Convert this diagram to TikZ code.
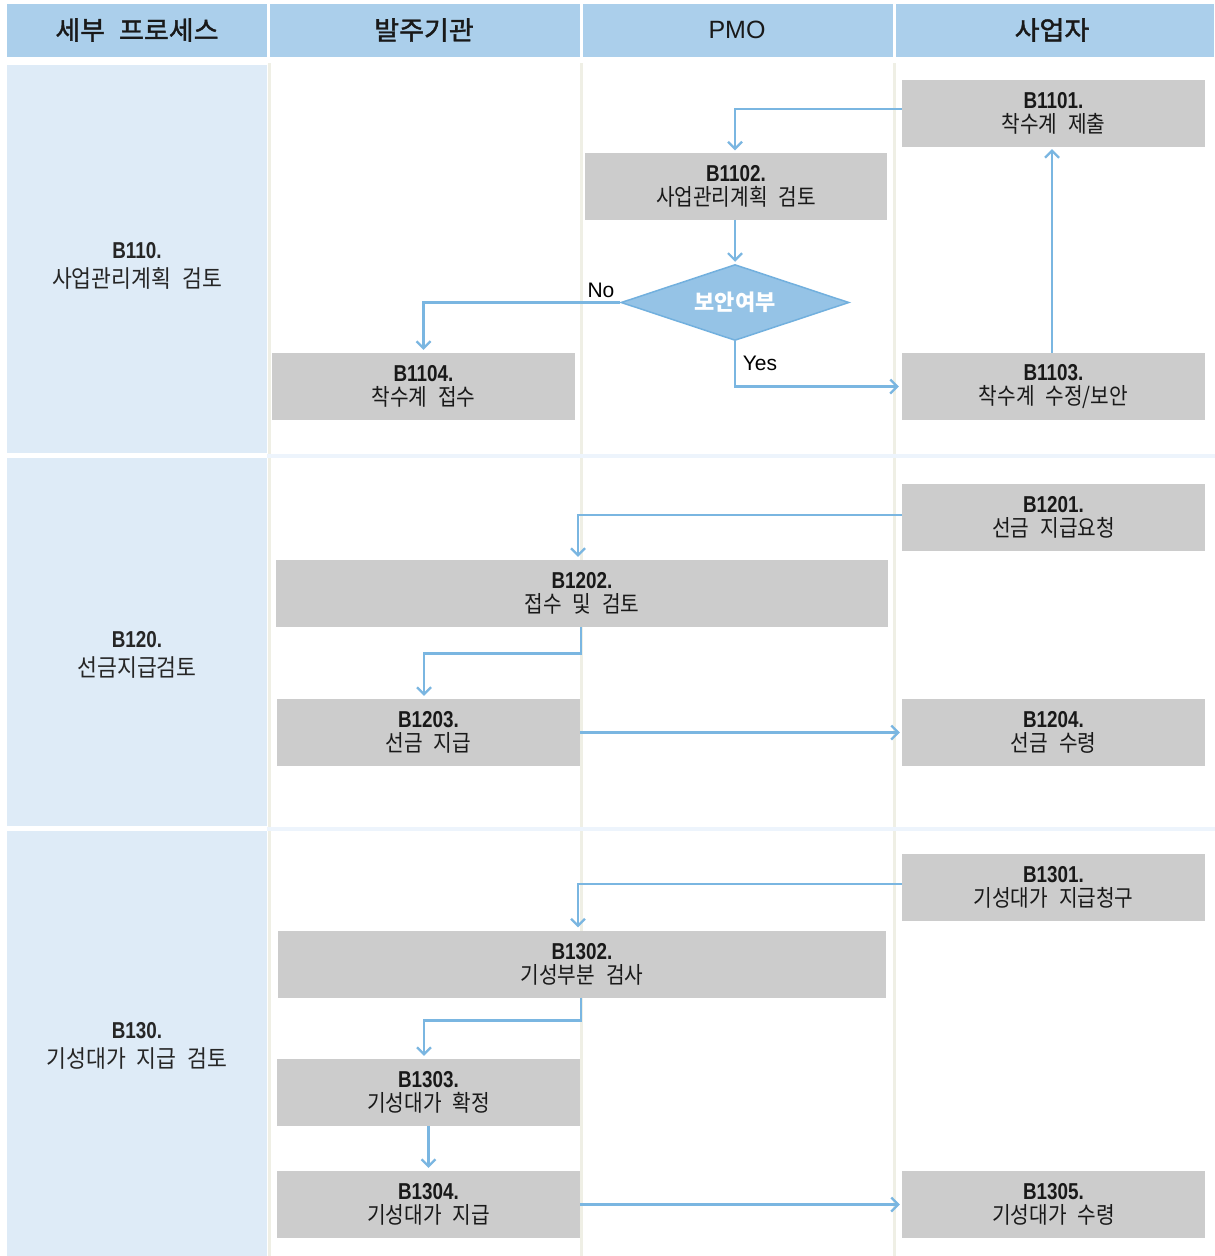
\documentclass[tikz,border=0pt]{standalone}
\usepackage{fontspec}
\setmainfont{Noto Sans CJK KR}
\newfontfamily\boxfont[FakeStretch=0.88]{Noto Sans CJK KR}
\newfontfamily\leftfont[FakeStretch=0.9]{Noto Sans CJK KR}
\newfontfamily\headfont[FakeStretch=1.04, FakeBold=1.6]{Noto Sans CJK KR}
\newfontfamily\codefont[FakeStretch=0.82]{Liberation Sans}
\newfontfamily\latinfont{Liberation Sans}
\usetikzlibrary{arrows.meta,shapes.geometric,calc}

% word gap used inside Korean labels
\newcommand{\ws}{\hspace{11pt}}

\definecolor{headblue}{HTML}{ABCFEB}
\definecolor{leftblue}{HTML}{DEEBF7}
\definecolor{boxgray}{HTML}{CCCCCC}
\definecolor{flowblue}{HTML}{7AB6E1}
\definecolor{diafill}{HTML}{95C3E6}
\definecolor{diadraw}{HTML}{72B0DE}
\definecolor{laneline}{HTML}{EFEFE5}
\definecolor{rowline}{HTML}{EDF4FC}

\tikzset{
  headcell/.style={fill=headblue, draw=none},
  headtext/.style={font=\headfont\fontsize{26}{28}\selectfont, text=black!90},
  leftcell/.style={fill=leftblue, draw=none},
  lefttext/.style={font=\leftfont\fontsize{24}{29}\selectfont, align=center, text=black!85},
  stepbox/.style={fill=boxgray, draw=none, inner sep=0pt, align=center,
    minimum height=67pt, font=\boxfont\fontsize{23}{24}\selectfont, text=black!90},
  decision/.style={diamond, shape aspect=3, fill=diafill, draw=diadraw, line width=1.5pt,
    inner sep=0pt, minimum width=228pt, minimum height=76pt,
    font=\bfseries\fontsize{22}{22}\selectfont, text=white},
  flow/.style={draw=flowblue, line width=2.6pt,
    -{Straight Barb[length=7pt,width=14pt,line width=2.2pt]}},
  edgelabel/.style={font=\latinfont\fontsize{21}{21}\selectfont, text=black, inner sep=0pt}
}

\newcommand{\code}[1]{{\codefont\bfseries\fontsize{23}{23}\selectfont #1}}

\begin{document}
\begin{tikzpicture}[x=1pt,y=-1pt]
\useasboundingbox (0,0) rectangle (1215,1256);
\fill[white] (0,0) rectangle (1215,1256);

% header row
\fill[headcell] (7,4) rectangle (267,57);
\fill[headcell] (270,4) rectangle (580,57);
\fill[headcell] (583,4) rectangle (893,57);
\fill[headcell] (896,4) rectangle (1214,57);
\node[headtext] (h1) at (137,30) {세부\hspace{14pt}프로세스};
\node[headtext] (h2) at (424,30) {발주기관};
\node[headtext, font=\latinfont\fontsize{25}{27}\selectfont] (h3) at (737,30) {PMO};
\node[headtext] (h4) at (1052,30) {사업자};

% lane dividers
\foreach \lx in {269,581.5,894.5}
  \draw[laneline, line width=3pt] (\lx,63) -- (\lx,1256);
\draw[rowline, line width=4pt] (267,455.5) -- (1215,455.5);
\draw[rowline, line width=4pt] (267,829) -- (1215,829);

% process column
\fill[leftcell] (7,65) rectangle (267,453);
\fill[leftcell] (7,458) rectangle (267,826);
\fill[leftcell] (7,831) rectangle (267,1256);
\node[lefttext] (p110) at (137,266) {\code{B110.}\\사업관리계획\ws 검토};
\node[lefttext] (p120) at (137,655) {\code{B120.}\\선금지급검토};
\node[lefttext] (p130) at (137,1046) {\code{B130.}\\기성대가\ws 지급\ws 검토};

% B110 steps
\node[stepbox, minimum width=303pt] (b1101) at (1053.5,113.5) {\code{B1101.}\\착수계\ws 제출};
\node[stepbox, minimum width=302pt] (b1102) at (736,186) {\code{B1102.}\\사업관리계획\ws 검토};
\node[decision] (dia) at (735,302.5) {보안여부};
\node[stepbox, minimum width=303pt] (b1104) at (423.5,386.5) {\code{B1104.}\\착수계\ws 접수};
\node[stepbox, minimum width=303pt] (b1103) at (1053.5,386.5) {\code{B1103.}\\착수계\ws 수정/보안};

% B120 steps
\node[stepbox, minimum width=303pt] (b1201) at (1053.5,517.5) {\code{B1201.}\\선금\ws 지급요청};
\node[stepbox, minimum width=612pt] (b1202) at (582,593.5) {\code{B1202.}\\접수\ws 및\ws 검토};
\node[stepbox, minimum width=303pt] (b1203) at (428.5,732.5) {\code{B1203.}\\선금\ws 지급};
\node[stepbox, minimum width=303pt] (b1204) at (1053.5,732.5) {\code{B1204.}\\선금\ws 수령};

% B130 steps
\node[stepbox, minimum width=303pt] (b1301) at (1053.5,887.5) {\code{B1301.}\\기성대가\ws 지급청구};
\node[stepbox, minimum width=608pt] (b1302) at (582,964) {\code{B1302.}\\기성부분\ws 검사};
\node[stepbox, minimum width=303pt] (b1303) at (428.5,1092.5) {\code{B1303.}\\기성대가\ws 확정};
\node[stepbox, minimum width=303pt] (b1304) at (428.5,1204.5) {\code{B1304.}\\기성대가\ws 지급};
\node[stepbox, minimum width=303pt] (b1305) at (1053.5,1204.5) {\code{B1305.}\\기성대가\ws 수령};

% connectors
\draw[flow, shorten >=2pt] ([yshift=4.5pt]b1101.west) -| (dia.north |- b1102.north);
\draw[flow, shorten >=2pt] (dia.north |- b1102.south) -- (dia.north);
\draw[flow, shorten >=3pt] (dia.west) -| (b1104.north);
\draw[flow, shorten >=3pt] (dia.south) |- (b1103.west);
\draw[flow, shorten >=2pt] ([xshift=-1.5pt]b1103.north) -- ([xshift=-1.5pt]b1101.south);
\node[edgelabel] (lno) at (601,290) {No};
\node[edgelabel] (lyes) at (760,363) {Yes};

\draw[flow, shorten >=3pt] ([yshift=2.5pt]b1201.west) -| ([xshift=-4pt]b1202.north);
\draw[flow, shorten >=3pt] ([xshift=-1pt]b1202.south) -- ++(0,26) -| ([xshift=-4.5pt]b1203.north);
\draw[flow, shorten >=2pt] (b1203.east) -- (b1204.west);

\draw[flow, shorten >=3pt] ([yshift=3.5pt]b1301.west) -| ([xshift=-4pt]b1302.north);
\draw[flow, shorten >=3pt] ([xshift=-1pt]b1302.south) -- ++(0,23) -| ([xshift=-4.5pt]b1303.north);
\draw[flow, shorten >=3pt] (b1303.south) -- (b1304.north);
\draw[flow, shorten >=2pt] (b1304.east) -- (b1305.west);
\end{tikzpicture}
\end{document}
